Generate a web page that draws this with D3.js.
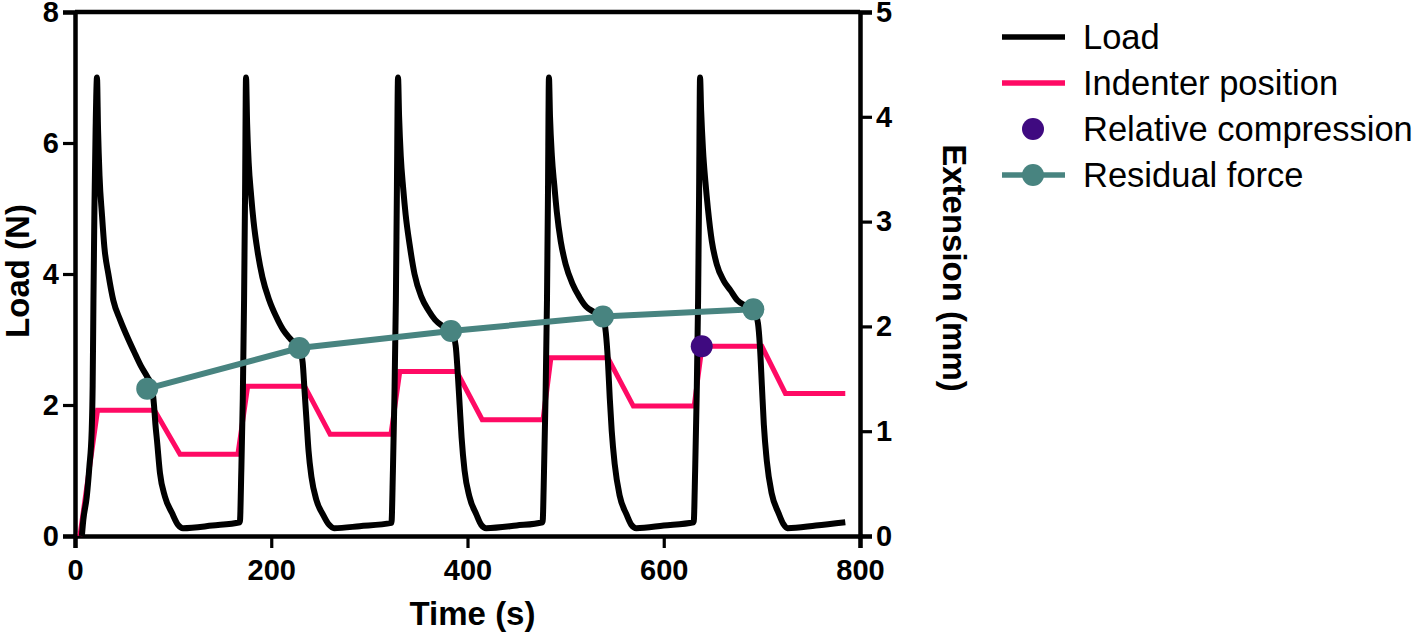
<!DOCTYPE html>
<html>
<head>
<meta charset="utf-8">
<script src="https://cdn.jsdelivr.net/npm/d3@7"></script>
<style>
  body { margin: 0; background: #fff; }
  svg text { font-family: "Liberation Sans", Arial, sans-serif; }
</style>
</head>
<body>
<svg id="chart"></svg>
<script>
/*
  Load / indenter position vs time
*/

// [time (s), load (N)]
var loadPoints = [
  [7,0],[8.5,0.25],[12,0.6],[14.6,1.05],[17,1.6],[18,2.3],[18.8,3.6],[19.8,5.0],[21,6.2],[22.4,7.0],
  [23.5,6.2],[25,5.5],[27.5,4.9],[30,4.4],[34,4.0],[39,3.6],[46,3.3],[53,3.05],[60,2.82],[67,2.6],[74,2.42],[78,2.3],
  [80.5,2.0],[82,1.7],[83.6,1.45],[86.6,0.96],[91.7,0.6],[98.9,0.35],[105,0.17],[110,0.12],[140,0.16],[168,0.21],
  [169.5,1.0],[171,2.1],[172.3,3.6],[173.3,5.2],[174.3,7.0],
  [175.4,6.3],[177,5.7],[179.5,5.2],[182,4.8],[186,4.35],[191,3.95],[198,3.6],[205,3.35],[212,3.15],[220,3.0],[229,2.85],
  [232,2.65],[234,2.2],[236,1.75],[238,1.3],[241,0.9],[246,0.55],[253,0.32],[259,0.17],[264,0.12],[290,0.15],[322.5,0.2],
  [324,1.0],[325.5,2.1],[327,3.6],[328,5.2],[329.2,7.0],
  [330.3,6.4],[332,5.8],[334.5,5.3],[337,4.9],[341,4.45],[346,4.0],[353,3.65],[360,3.45],[367,3.3],[375,3.2],[384,3.12],
  [388,2.9],[390,2.5],[392,2.0],[394,1.5],[397,1.0],[402,0.6],[409,0.33],[414,0.17],[419,0.12],[450,0.16],[476.5,0.21],
  [478,1.0],[479.5,2.1],[481,3.6],[482,5.2],[483,7.0],
  [484.1,6.4],[486,5.8],[488.5,5.35],[491,4.95],[495,4.5],[500,4.15],[507,3.85],[514,3.65],[521,3.5],[529,3.42],[538,3.33],
  [541,3.1],[543,2.7],[545,2.1],[547,1.6],[550,1.1],[555,0.62],[562,0.33],[567,0.17],[572,0.12],[600,0.16],[630.5,0.21],
  [632,1.0],[633.5,2.1],[635,3.6],[636,5.2],[637,7.0],
  [638.1,6.5],[640,5.9],[642.5,5.4],[645,5.0],[649,4.5],[654,4.15],[661,3.9],[668,3.75],[675,3.6],[683,3.52],[692,3.45],
  [696,3.25],[698,2.9],[700,2.3],[702,1.7],[705,1.15],[710,0.65],[717,0.35],[722,0.18],[726,0.12],[755,0.16],[785,0.21]
];

// [time (s), extension (mm)]
var indenterPoints = [
  [5,0],[23,1.2],[81,1.2],[107,0.78],[166,0.78],[176,1.43],[234,1.43],[260,0.97],[322,0.97],[331,1.57],
  [389,1.57],[415,1.11],[477,1.11],[485,1.7],[543,1.7],[569,1.24],[631,1.24],[639,1.81],[700,1.81],[724,1.36],[785,1.36]
];

var residualTime = [73.6, 228.6, 383.2, 538, 691.3],
    residualForce = [2.25, 2.87, 3.13, 3.35, 3.46];

var compressionTime = [638.7],
    compressionExt = [1.81];

var xTicks = [0, 200, 400, 600, 800],
    yLeftTicks = [0, 2, 4, 6, 8],
    yRightTicks = [0, 1, 2, 3, 4, 5];

var legendLabels = ["Load", "Indenter position", "Relative compression", "Residual force"];

var colors = {load: "#000000", indenter: "#ff0a64", compression: "#3f0a80", residual: "#488480"};

var margin = {top: 12, right: 556, bottom: 102, left: 75},
    fullWidth = 1416,
    fullHeight = 638,
    width = fullWidth - margin.left - margin.right,
    height = fullHeight - margin.top - margin.bottom;

var x = d3.scaleLinear().domain([0, 800]).range([0, width]),
    yL = d3.scaleLinear().domain([0, 8]).range([height, 0]),
    yR = d3.scaleLinear().domain([0, 5]).range([height, 0]);

var svg = d3.select("#chart")
    .attr("width", fullWidth)
    .attr("height", fullHeight)
  .append("g")
    .attr("transform", "translate(" + margin.left + "," + margin.top + ")");

// axes
var xAxis = svg.append("g")
    .attr("transform", "translate(0," + height + ")")
    .call(d3.axisBottom(x).tickValues(xTicks).tickSize(12).tickPadding(11));

var leftAxis = svg.append("g")
    .call(d3.axisLeft(yL).tickValues(yLeftTicks).tickSize(12).tickPadding(4));

var rightAxis = svg.append("g")
    .attr("transform", "translate(" + width + ",0)")
    .call(d3.axisRight(yR).tickValues(yRightTicks).tickFormat(d3.format("d")).tickSize(12).tickPadding(4));

svg.append("line")
    .attr("x1", 0).attr("x2", width)
    .attr("y1", 0).attr("y2", 0)
    .attr("stroke", "#000")
    .attr("stroke-width", 4.5);

[xAxis, leftAxis, rightAxis].forEach(function(a){
  a.select(".domain").attr("stroke-width", 4.5);
  a.selectAll(".tick line").attr("stroke-width", 3.2);
  a.selectAll("text")
    .style("font-size", "29px")
    .style("font-weight", "bold")
    .attr("fill", "#000");
});

// series
var lineL = d3.line().x(function(d){ return x(d[0]); }).y(function(d){ return yL(d[1]); }),
    lineR = d3.line().x(function(d){ return x(d[0]); }).y(function(d){ return yR(d[1]); });

svg.append("path")
    .datum(indenterPoints)
    .attr("d", lineR)
    .attr("fill", "none")
    .attr("stroke", colors.indenter)
    .attr("stroke-width", 5)
    .attr("stroke-linejoin", "miter");

svg.append("path")
    .datum(loadPoints)
    .attr("d", lineL.curve(d3.curveMonotoneX))
    .attr("fill", "none")
    .attr("stroke", colors.load)
    .attr("stroke-width", 6)
    .attr("stroke-linejoin", "round");

var residual = residualTime.map(function(t, i){ return [t, residualForce[i]]; });

svg.append("path")
    .datum(residual)
    .attr("d", d3.line().x(function(d){ return x(d[0]); }).y(function(d){ return yL(d[1]); }))
    .attr("fill", "none")
    .attr("stroke", colors.residual)
    .attr("stroke-width", 6);

svg.selectAll(".resDot")
    .data(residual)
  .enter().append("circle")
    .attr("class", "resDot")
    .attr("cx", function(d){ return x(d[0]); })
    .attr("cy", function(d){ return yL(d[1]); })
    .attr("r", 11)
    .attr("fill", colors.residual);

svg.selectAll(".compDot")
    .data(compressionTime)
  .enter().append("circle")
    .attr("class", "compDot")
    .attr("cx", function(d){ return x(d); })
    .attr("cy", function(d, i){ return yR(compressionExt[i]); })
    .attr("r", 11)
    .attr("fill", colors.compression);

// axis titles
svg.append("text")
    .attr("transform", "translate(" + (29 - margin.left) + "," + (271 - margin.top) + ") rotate(-90)")
    .style("text-anchor", "middle")
    .style("font-weight", "bold")
    .style("font-size", "33px")
    .text("Load (N)");

svg.append("text")
    .attr("x", width / 2 + 5)
    .attr("y", 625 - margin.top)
    .style("text-anchor", "middle")
    .style("font-weight", "bold")
    .style("font-size", "33px")
    .text("Time (s)");

svg.append("text")
    .attr("transform", "translate(" + (943 - margin.left) + "," + (268 - margin.top) + ") rotate(90)")
    .style("text-anchor", "middle")
    .style("font-weight", "bold")
    .style("font-size", "33px")
    .text("Extension (mm)");

// legend
var legend = d3.select("#chart").append("g")
    .attr("transform", "translate(1002,37)");

var rows = legend.selectAll(".row")
    .data(legendLabels)
  .enter().append("g")
    .attr("class", "row")
    .attr("transform", function(d, i){ return "translate(0," + (i * 46) + ")"; });

rows.filter(function(d, i){ return i !== 2; })
  .append("line")
    .attr("x1", 0).attr("x2", 63)
    .attr("stroke", function(d, i){ return [colors.load, colors.indenter, colors.residual][i]; })
    .attr("stroke-width", 5.5);

rows.filter(function(d, i){ return i >= 2; })
  .append("circle")
    .attr("cx", 31)
    .attr("r", 11)
    .attr("fill", function(d, i){ return i === 0 ? colors.compression : colors.residual; });

rows.append("text")
    .attr("x", 81)
    .attr("dy", "0.35em")
    .style("font-size", "34.5px")
    .text(function(d){ return d; });
</script>
</body>
</html>
